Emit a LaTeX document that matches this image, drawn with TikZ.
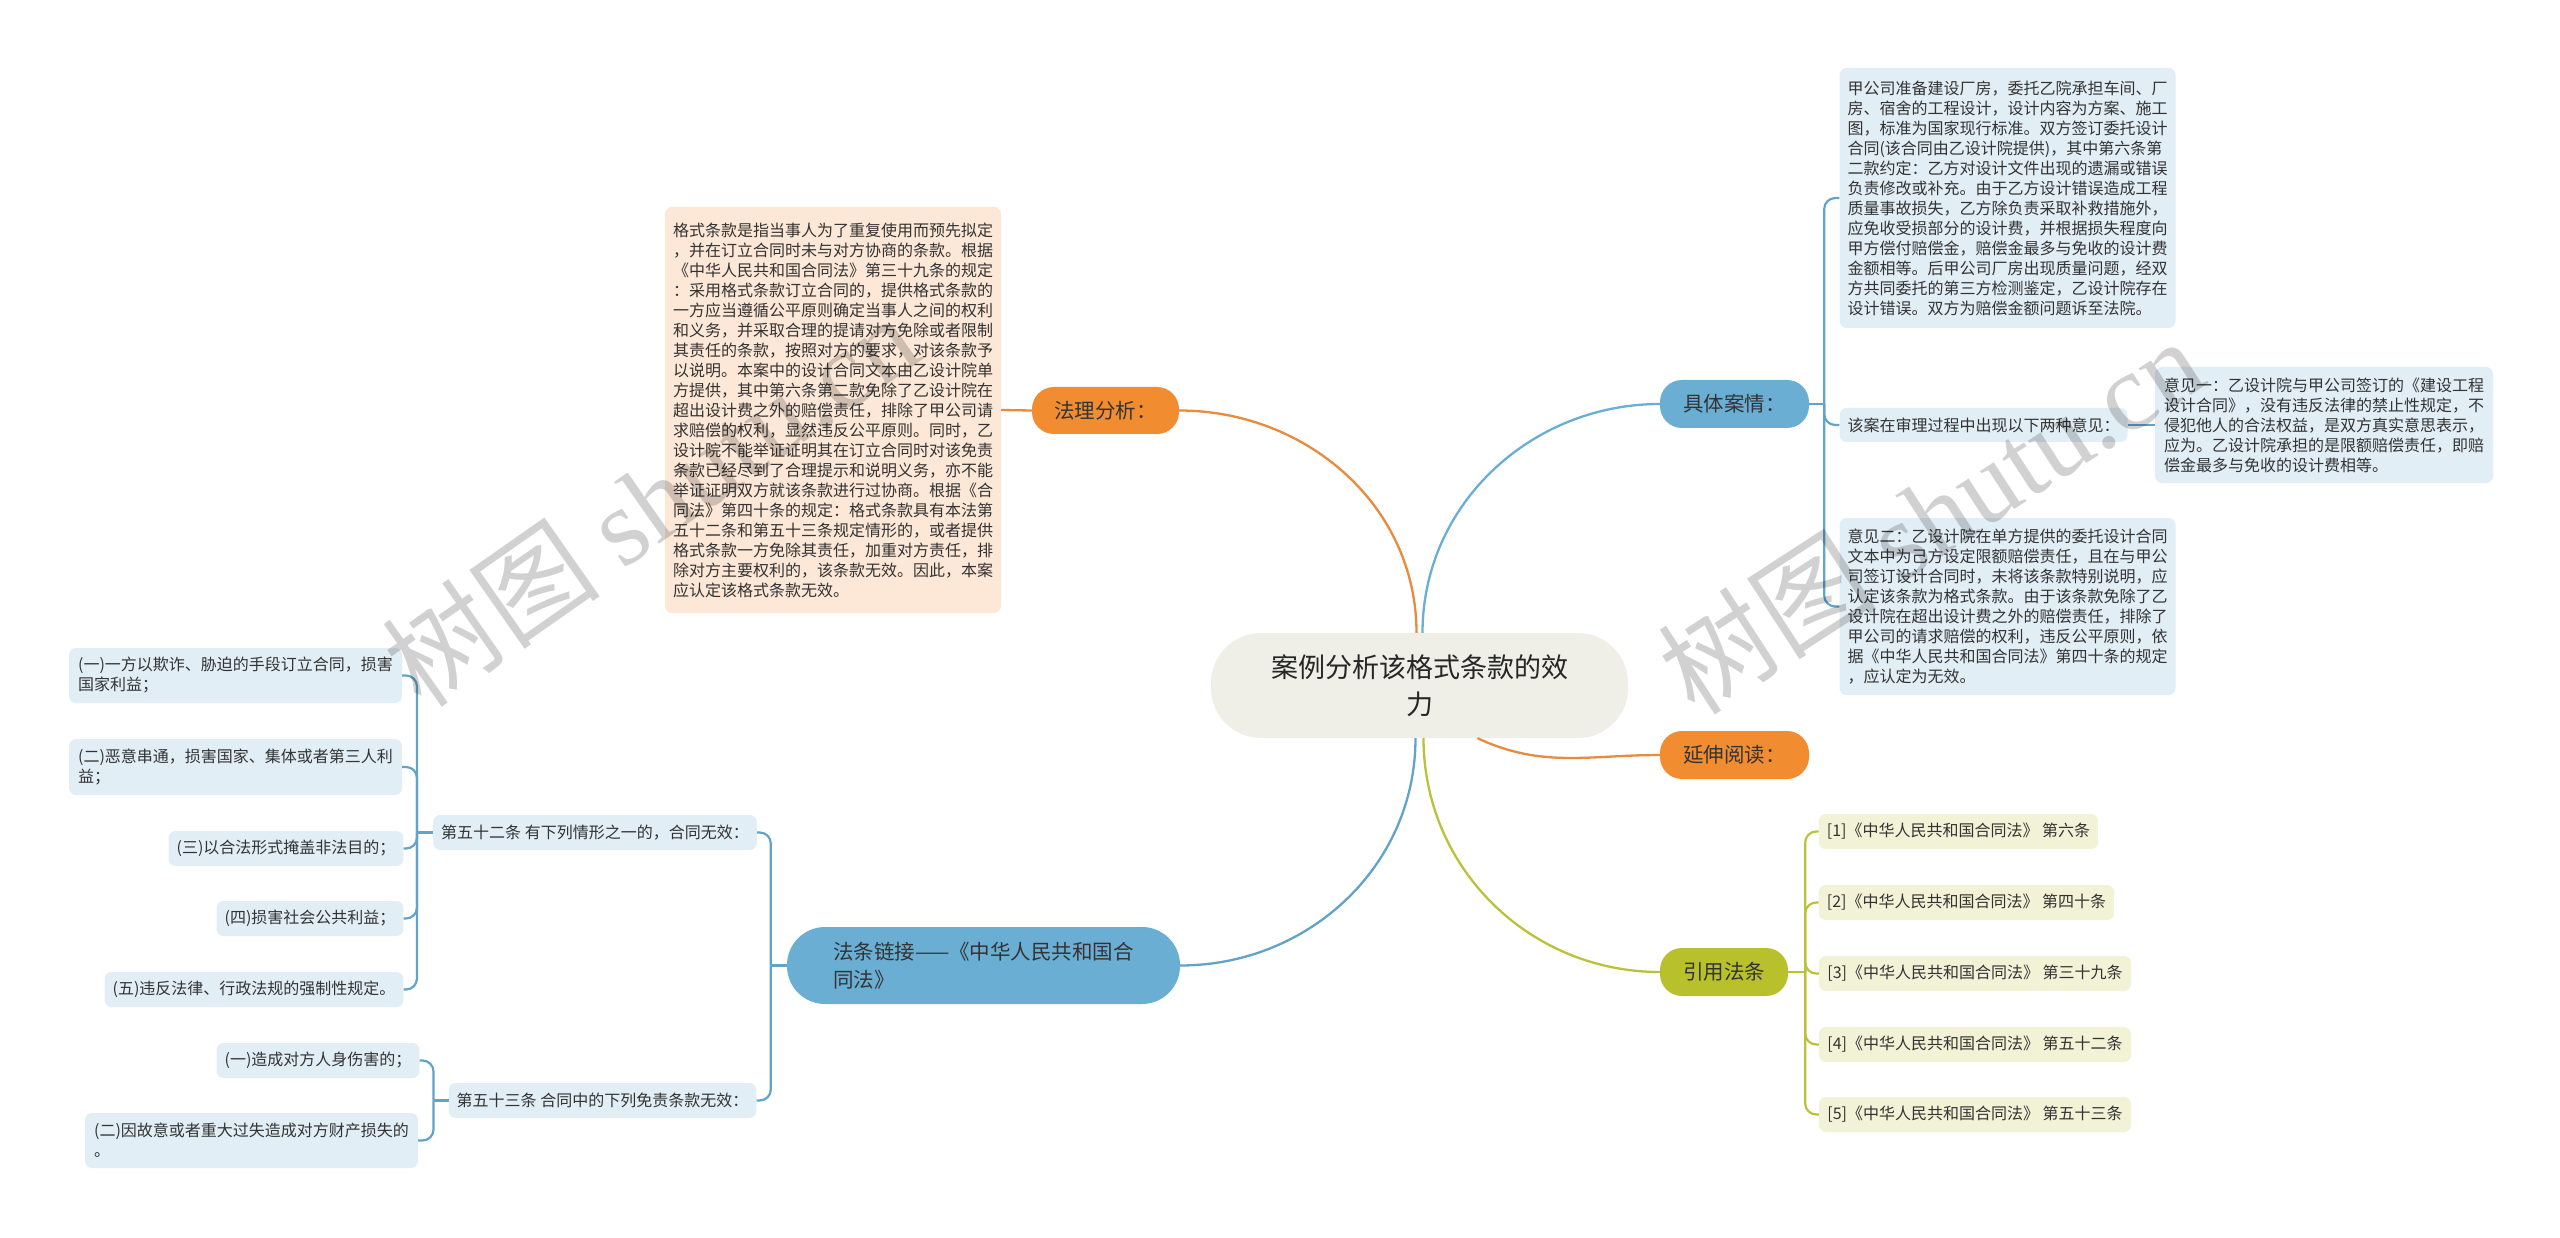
\documentclass[tikz,border=0pt]{standalone}
\usepackage{fontspec}
\setmainfont{Noto Sans CJK SC}
\newfontfamily\wmlatin{Liberation Serif}
\definecolor{orgfill}{HTML}{F28C30}
\definecolor{orgline}{HTML}{E98A3C}
\definecolor{bluefill}{HTML}{6AAFD3}
\definecolor{blueline}{HTML}{62A3C8}
\definecolor{olvfill}{HTML}{B8C12B}
\definecolor{olvline}{HTML}{BAC23A}
\definecolor{rootfill}{HTML}{EFEFE7}
\definecolor{peachfill}{HTML}{FDE7D6}
\definecolor{skyfill}{HTML}{E2EEF6}
\definecolor{creamfill}{HTML}{F1F2D6}
\definecolor{inkgray}{HTML}{333333}
\tikzset{
  mmroot/.style={rectangle, rounded corners=50pt, fill=rootfill,
                 align=center, text=black!85, inner sep=0pt,
                 font=\fontsize{27}{37}\selectfont},
  mmmain/.style={rectangle, rounded corners=22pt, align=left,
                 text=inkgray, inner sep=0pt,
                 font=\fontsize{20.5}{28}\selectfont},
  mmorg/.style={mmmain, fill=orgfill},
  mmblue/.style={mmmain, fill=bluefill},
  mmolv/.style={mmmain, fill=olvfill},
  mmleaf/.style={rectangle, rounded corners=7pt, align=left,
                 text=inkgray, inner xsep=8pt, inner ysep=6pt,
                 font=\fontsize{16}{20}\selectfont},
  peachleaf/.style={mmleaf, fill=peachfill},
  skyleaf/.style={mmleaf, fill=skyfill},
  creamleaf/.style={mmleaf, fill=creamfill},
  mmcurve/.style={line width=2.3pt},
  mmtree/.style={line width=2.2pt, rounded corners=11pt},
  wmark/.style={text=black, opacity=0.18, inner sep=0pt,
                font=\fontsize{110}{110}\selectfont},
}
\begin{document}
\begin{tikzpicture}[x=1pt, y=-1pt]
  \fill[white] (0,0) rectangle (2560,1238);
  \useasboundingbox (0,0) rectangle (2560,1238);
  % root
  \node[mmroot, minimum width=417pt, minimum height=105pt] (cnt) at (1419.5, 685.5)
    {案例分析该格式条款的效\\力};
  % main topics
  \node[mmorg, minimum width=147pt, minimum height=47pt] (fali) at (1105.5, 410.5)
    {法理分析：};
  \node[mmblue, minimum width=149pt, minimum height=48pt] (juti) at (1734.5, 404)
    {具体案情：};
  \node[mmorg, minimum width=149pt, minimum height=48pt] (yanshen) at (1734.5, 755)
    {延伸阅读：};
  \node[mmolv, minimum width=128pt, minimum height=48pt] (yinyong) at (1724, 972)
    {引用法条};
  \node[mmblue, rounded corners=38pt, minimum width=393pt, minimum height=77pt] (falian) at (983.5, 965.5)
    {法条链接——《中华人民共和国合\\同法》};
  % legal analysis
  \node[peachleaf, minimum width=334pt, minimum height=406pt] (geshi) at (833, 410)
    {格式条款是指当事人为了重复使用而预先拟定\\
     ，并在订立合同时未与对方协商的条款。根据\\
     《中华人民共和国合同法》第三十九条的规定\\
     ：采用格式条款订立合同的，提供格式条款的\\
     一方应当遵循公平原则确定当事人之间的权利\\
     和义务，并采取合理的提请对方免除或者限制\\
     其责任的条款，按照对方的要求，对该条款予\\
     以说明。本案中的设计合同文本由乙设计院单\\
     方提供，其中第六条第二款免除了乙设计院在\\
     超出设计费之外的赔偿责任，排除了甲公司请\\
     求赔偿的权利，显然违反公平原则。同时，乙\\
     设计院不能举证证明其在订立合同时对该免责\\
     条款已经尽到了合理提示和说明义务，亦不能\\
     举证证明双方就该条款进行过协商。根据《合\\
     同法》第四十条的规定：格式条款具有本法第\\
     五十二条和第五十三条规定情形的，或者提供\\
     格式条款一方免除其责任，加重对方责任，排\\
     除对方主要权利的，该条款无效。因此，本案\\
     应认定该格式条款无效。};
  % case facts
  \node[skyleaf, minimum width=335pt, minimum height=260pt] (anq) at (2007.5, 198)
    {甲公司准备建设厂房，委托乙院承担车间、厂\\
     房、宿舍的工程设计，设计内容为方案、施工\\
     图，标准为国家现行标准。双方签订委托设计\\
     合同(该合同由乙设计院提供)，其中第六条第\\
     二款约定：乙方对设计文件出现的遗漏或错误\\
     负责修改或补充。由于乙方设计错误造成工程\\
     质量事故损失，乙方除负责采取补救措施外，\\
     应免收受损部分的设计费，并根据损失程度向\\
     甲方偿付赔偿金，赔偿金最多与免收的设计费\\
     金额相等。后甲公司厂房出现质量问题，经双\\
     方共同委托的第三方检测鉴定，乙设计院存在\\
     设计错误。双方为赔偿金额问题诉至法院。};
  \node[skyleaf, minimum width=287pt, minimum height=34pt] (gaian) at (1983.5, 425)
    {该案在审理过程中出现以下两种意见：};
  \node[skyleaf, minimum width=338pt, minimum height=116pt] (yj1) at (2324, 425)
    {意见一：乙设计院与甲公司签订的《建设工程\\
     设计合同》，没有违反法律的禁止性规定，不\\
     侵犯他人的合法权益，是双方真实意思表示，\\
     应为。乙设计院承担的是限额赔偿责任，即赔\\
     偿金最多与免收的设计费相等。};
  \node[skyleaf, minimum width=335pt, minimum height=177pt] (yj2) at (2007.5, 606.5)
    {意见二：乙设计院在单方提供的委托设计合同\\
     文本中为己方设定限额赔偿责任，且在与甲公\\
     司签订设计合同时，未将该条款特别说明，应\\
     认定该条款为格式条款。由于该条款免除了乙\\
     设计院在超出设计费之外的赔偿责任，排除了\\
     甲公司的请求赔偿的权利，违反公平原则，依\\
     据《中华人民共和国合同法》第四十条的规定\\
     ，应认定为无效。};
  % cited articles
  \node[creamleaf, minimum width=279pt, minimum height=35pt] (r1) at (1958.5, 831.5)
    {[1]《中华人民共和国合同法》 第六条};
  \node[creamleaf, minimum width=295pt, minimum height=35pt] (r2) at (1966.5, 902.5)
    {[2]《中华人民共和国合同法》 第四十条};
  \node[creamleaf, minimum width=312pt, minimum height=35pt] (r3) at (1975, 973.5)
    {[3]《中华人民共和国合同法》 第三十九条};
  \node[creamleaf, minimum width=312pt, minimum height=35pt] (r4) at (1975, 1044.5)
    {[4]《中华人民共和国合同法》 第五十二条};
  \node[creamleaf, minimum width=312pt, minimum height=35pt] (r5) at (1975, 1114.5)
    {[5]《中华人民共和国合同法》 第五十三条};
  % contract law articles
  \node[skyleaf, minimum width=322pt, minimum height=35pt] (t52) at (595, 832.5)
    {第五十二条 有下列情形之一的，合同无效：};
  \node[skyleaf, minimum width=307pt, minimum height=35pt] (t53) at (602.5, 1100.5)
    {第五十三条 合同中的下列免责条款无效：};
  \node[skyleaf, minimum width=333pt, minimum height=55pt] (a1) at (235.5, 675.5)
    {(一)一方以欺诈、胁迫的手段订立合同，损害\\国家利益；};
  \node[skyleaf, minimum width=333pt, minimum height=56pt] (a2) at (235.5, 767)
    {(二)恶意串通，损害国家、集体或者第三人利\\益；};
  \node[skyleaf, minimum width=232pt, minimum height=35pt] (a3) at (286, 848.5)
    {(三)以合法形式掩盖非法目的；};
  \node[skyleaf, minimum width=184pt, minimum height=35pt] (a4) at (310, 918.5)
    {(四)损害社会公共利益；};
  \node[skyleaf, minimum width=296pt, minimum height=35pt] (a5) at (254, 989.5)
    {(五)违反法律、行政法规的强制性规定。};
  \node[skyleaf, minimum width=200pt, minimum height=35pt] (b1) at (318, 1060.5)
    {(一)造成对方人身伤害的；};
  \node[skyleaf, minimum width=333pt, minimum height=55pt] (b2) at (251.5, 1140.5)
    {(二)因故意或者重大过失造成对方财产损失的\\。};
  % root curves
  \draw[mmcurve, orgline] (fali.east) to[out=0, in=90] ([xshift=-3pt]cnt.north);
  \draw[mmcurve, bluefill] (juti.west) to[out=180, in=90] ([xshift=3pt]cnt.north);
  \draw[mmcurve, orgline] (yanshen.west) to[out=180, in=-25] ([xshift=58pt]cnt.south);
  \draw[mmcurve, olvline] (yinyong.west) to[out=180, in=-90] ([xshift=4pt]cnt.south);
  \draw[mmcurve, blueline] (falian.east) to[out=0, in=-90] ([xshift=-4pt]cnt.south);
  % branch trees
  \draw[mmcurve, orgline] (fali.west) -- (geshi.east);
  \draw[mmcurve, blueline] (gaian.east) -- (yj1.west);
  \coordinate (jt) at ([xshift=15pt]juti.east);
  \draw[mmtree, blueline] (juti.east) -- (jt);
  \draw[mmtree, blueline] (jt) |- (anq.west);
  \draw[mmtree, blueline] (jt) |- (gaian.west);
  \draw[mmtree, blueline] (jt) |- (yj2.west);
  \coordinate (yt) at ([xshift=17pt]yinyong.east);
  \draw[mmtree, olvline] (yinyong.east) -- (yt);
  \draw[mmtree, olvline] (yt) |- (r1.west);
  \draw[mmtree, olvline] (yt) |- (r2.west);
  \draw[mmtree, olvline] (yt) |- (r3.west);
  \draw[mmtree, olvline] (yt) |- (r4.west);
  \draw[mmtree, olvline] (yt) |- (r5.west);
  \coordinate (ft) at ([xshift=-16pt]falian.west);
  \draw[mmtree, blueline] (falian.west) -- (ft);
  \draw[mmtree, blueline] (ft) |- (t52.east);
  \draw[mmtree, blueline] (ft) |- (t53.east);
  \coordinate (st) at ([xshift=-16pt]t52.west);
  \draw[mmtree, blueline] (t52.west) -- (st);
  \draw[mmtree, blueline] (st) |- (a1.east);
  \draw[mmtree, blueline] (st) |- (a2.east);
  \draw[mmtree, blueline] (st) |- (a3.east);
  \draw[mmtree, blueline] (st) |- (a4.east);
  \draw[mmtree, blueline] (st) |- (a5.east);
  \coordinate (tt) at ([xshift=-15pt]t53.west);
  \draw[mmtree, blueline] (t53.west) -- (tt);
  \draw[mmtree, blueline] (tt) |- (b1.east);
  \draw[mmtree, blueline] (tt) |- (b2.east);
  % watermarks
  \node[wmark, rotate=35] (wm1) at (650, 500) {树图 {\wmlatin shutu.cn}};
  \node[wmark, rotate=33] (wm2) at (1930, 515) {树图 {\wmlatin shutu.cn}};
\end{tikzpicture}
\end{document}
